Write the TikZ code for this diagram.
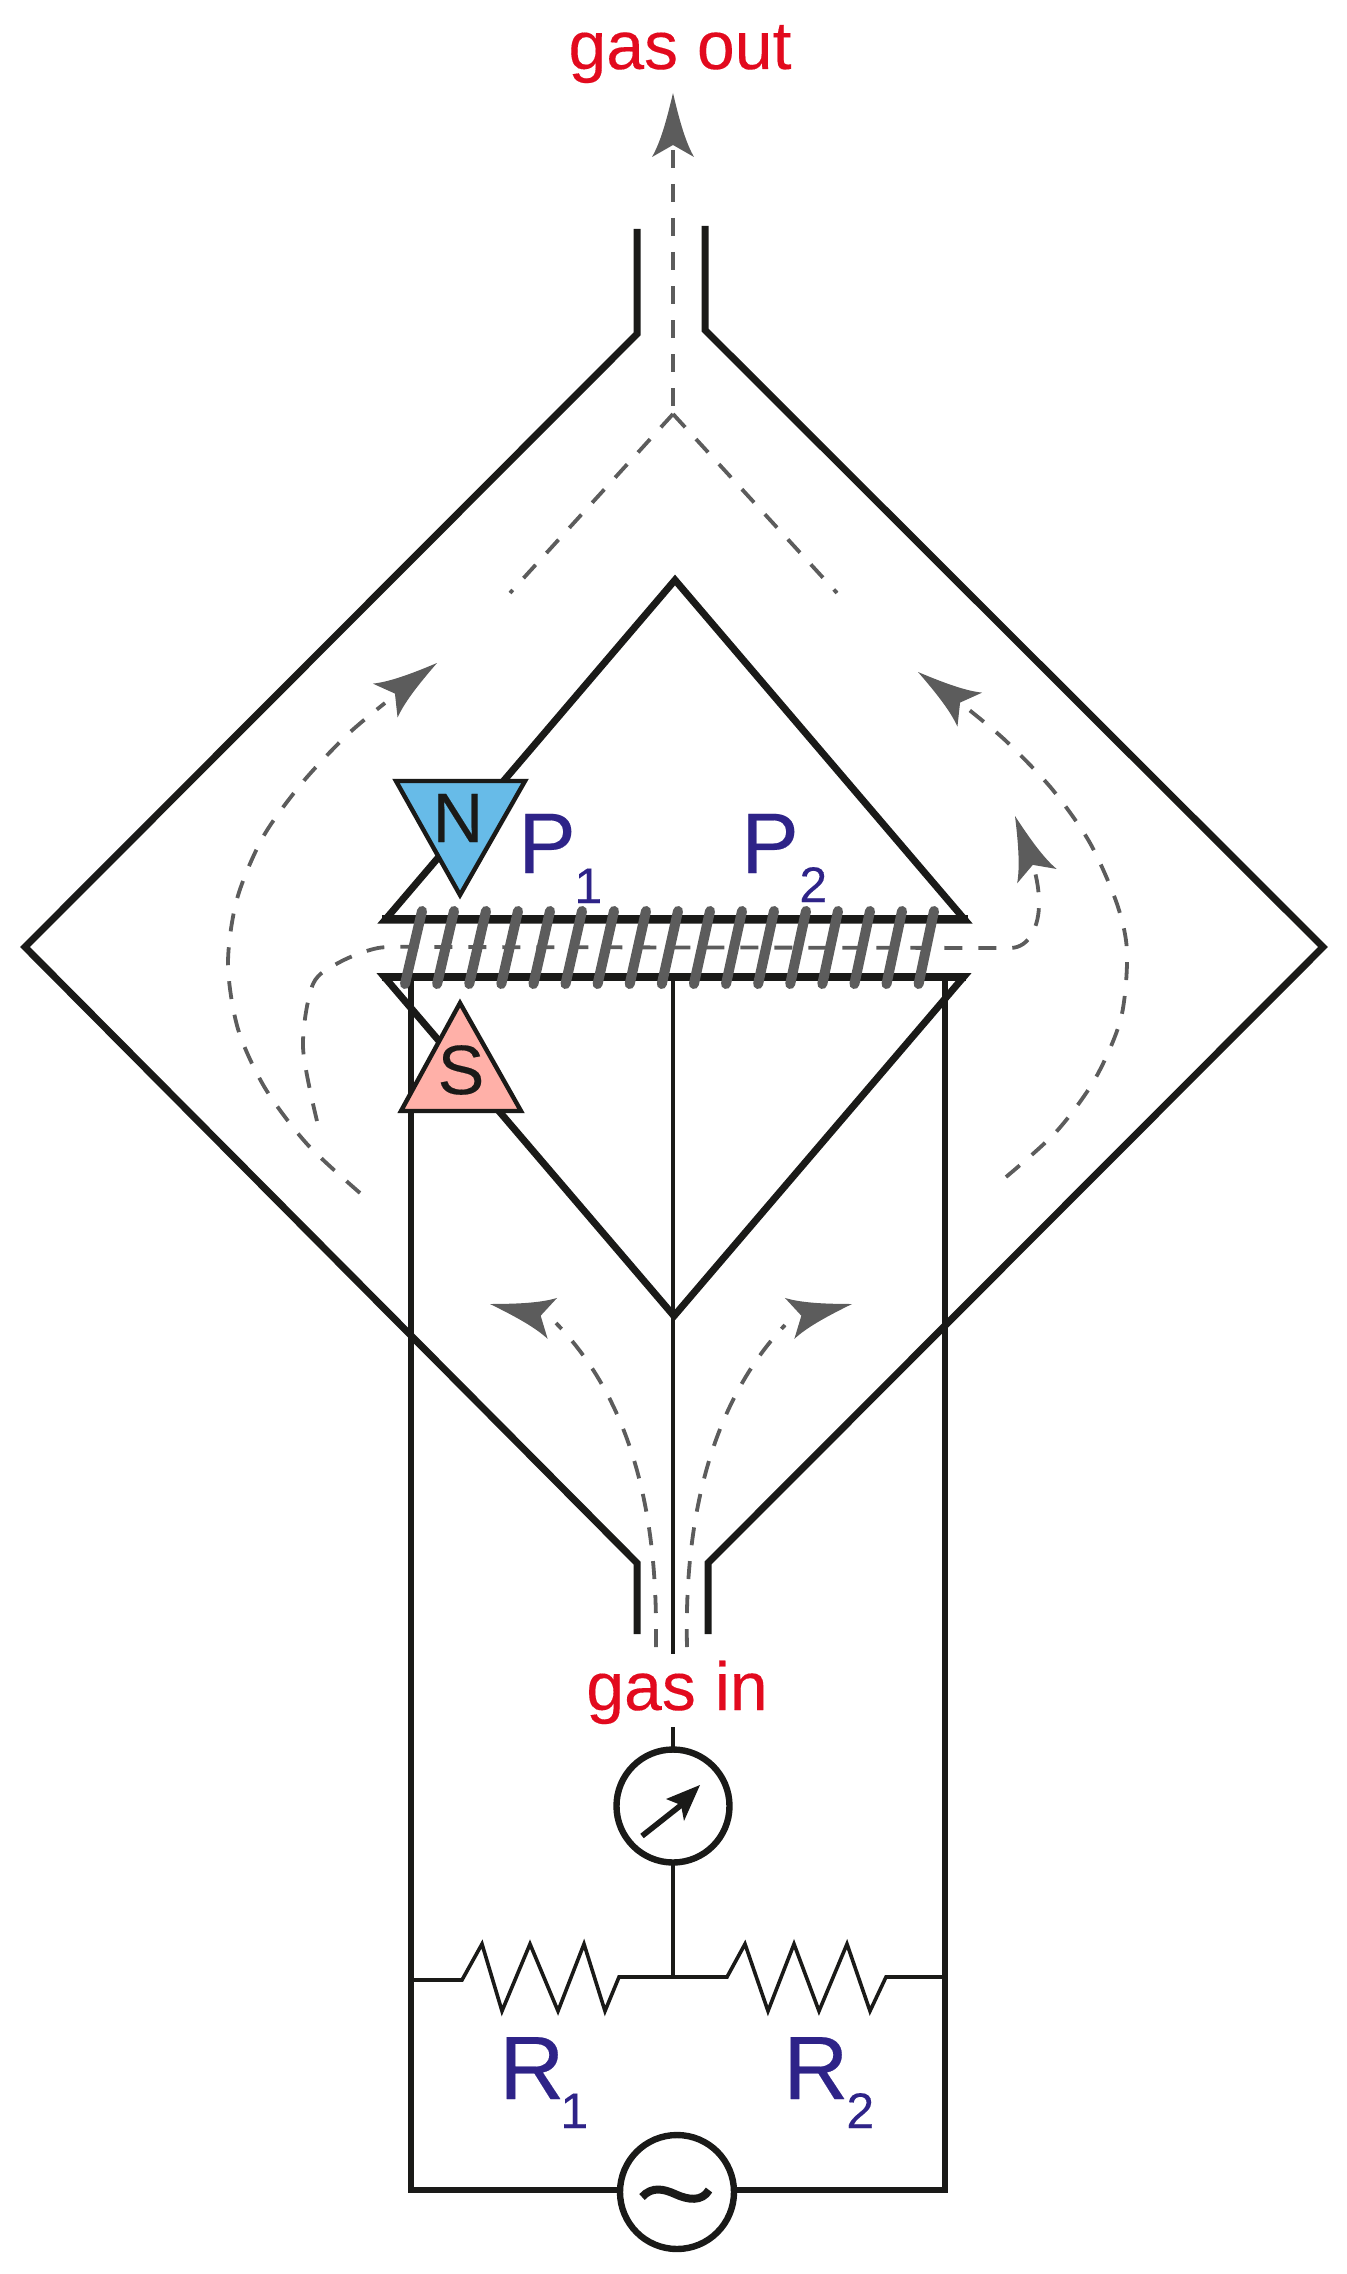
\documentclass[tikz,border=0pt]{standalone}
\usepackage{fontspec}
\setmainfont{Liberation Sans}[FakeBold=0.2]
\definecolor{ink}{HTML}{1A1A18}
\definecolor{flow}{HTML}{5C5C5C}
\definecolor{gasred}{HTML}{E20A1E}
\definecolor{labelblue}{HTML}{2E2388}
\definecolor{northblue}{HTML}{67BBE8}
\definecolor{southpink}{HTML}{FFB0A8}
\tikzset{
  x=0.5pt,y=-0.5pt,
  wall/.style={draw=ink,line width=3.5pt,line join=miter,miter limit=10},
  platebar/.style={draw=ink,line width=4.2pt},
  wire/.style={draw=ink,line width=3.2pt,line join=miter},
  thin wire/.style={draw=ink,line width=1.8pt,line join=miter},
  gasflow/.style={draw=flow,line width=1.9pt,dash pattern=on 9pt off 8pt},
  coilturn/.style={draw=flow,line width=5pt,line cap=round},
  head/.style={fill=flow,draw=none},
  gaslabel/.style={text=gasred,inner sep=0pt,anchor=base,font=\fontsize{34}{40}\selectfont},
  bluelabel/.style={text=labelblue,inner sep=0pt,anchor=base west},
  polelabel/.style={text=ink,inner sep=0pt,font=\fontsize{35}{40}\selectfont},
}
\newcommand{\gashead}[3]{% tip x, tip y, direction on the page (deg, counter-clockwise)
  \begin{scope}[shift={(#1,#2)},rotate=#3]
    \fill[head] (0,0) .. controls (-30,-7) and (-50,-13) .. (-64,-21) -- (-52,0) -- (-64,21) .. controls (-50,13) and (-30,7) .. (0,0) -- cycle;
  \end{scope}}
\begin{document}
\begin{tikzpicture}
\useasboundingbox (0,0) rectangle (1346,2274);
% outer body
\draw[wall] (637,229) -- (637,334) -- (25,947) -- (637,1563) -- (637,1634);
\draw[wall] (705,226) -- (705,330) -- (1323,947) -- (708,1563) -- (708,1634);
% plates
\draw[wall] (385,920) -- (675,580) -- (965,920) -- cycle;
\draw[wall] (384,976.5) -- (964,976.5) -- (674,1316) -- cycle;
\draw[platebar] (382,919) -- (968,919);
\draw[platebar] (382,977) -- (966,977);
% circuit
\draw[wire] (617,2190) -- (411,2190) -- (411,976.5) -- (945,976.5) -- (945,2190) -- (736,2190);
\draw[thin wire] (673,981) -- (673,1654);
\draw[thin wire] (673,1727) -- (673,1747);
\draw[thin wire] (673,1865) -- (673,1977);
\draw[thin wire] (411,1980) -- (462,1980) -- (482,1944) -- (502,2011) -- (530,1944) -- (558,2011) -- (584,1944) -- (605,2011) -- (619,1977) -- (727,1977) -- (745,1944) -- (768,2011) -- (794,1944) -- (819,2011) -- (847,1944) -- (870,2011) -- (886,1977) -- (945,1977);
% gas paths
\draw[gasflow] (673,150) -- (673,414);
\draw[gasflow] (673,414) -- (510,593);
\draw[gasflow] (673,414) -- (837,593);
\draw[gasflow] plot[smooth] coordinates {(360,1193) (307,1144) (265,1088) (238,1029) (228,964) (237,899) (263,837) (302,783) (347,735) (385,703)};
\draw[gasflow] plot[smooth] coordinates {(1006,1177) (1056,1132) (1095,1079) (1121,1018) (1127,952) (1117,904) (1090,843) (1052,789) (1006,741) (968,709)};
\draw[gasflow] plot[smooth] coordinates {(317,1121) (303,1047) (313,984) (340,962) (378,948) (420,947)} -- (1010,948) .. controls (1030,948) and (1039,925) .. (1039,904) .. controls (1039,890) and (1037,880) .. (1034,868);
\draw[gasflow] (656,1647) .. controls (657,1560) and (650,1420) .. (556,1323);
\draw[gasflow] (687,1647) .. controls (685,1560) and (695,1420) .. (785,1325);
\gashead{673}{93}{90}
\gashead{437}{663}{36}
\gashead{918}{672}{144}
\gashead{1015}{816}{110}
\gashead{490}{1304}{167}
\gashead{852}{1304}{13}
% magnets
\draw[draw=ink,line width=2.2pt,fill=northblue,line join=miter] (396,781) -- (525,781) -- (460,895) -- cycle;
\node[polelabel] (north) at (458,818) {N};
\draw[draw=ink,line width=2.2pt,fill=southpink,line join=miter] (460,1003) -- (401,1111) -- (521,1111) -- cycle;
\node[polelabel] (south) at (461,1070) {S};
% coil
\foreach \i in {0,...,16}{
  \draw[coilturn] ({422+32*\i},911) -- ({405+32.1*\i},984);
}
% meter and source
\draw[wire] (673,1806) circle (56.5);
\draw[draw=ink,line width=2.8pt] (642,1836) -- (685,1802);
\fill[ink] (700,1785) -- (666,1799) -- (681,1805) -- (684,1821) -- cycle;
\draw[wire] (677,2192) circle (57);
\draw[draw=ink,line width=4pt] (642,2197) .. controls (652,2186) and (664,2189) .. (675,2194) .. controls (688,2200) and (702,2202) .. (709,2190);
% labels
\node[gaslabel] (gasout) at (680,69) {gas out};
\node[gaslabel] (gasin) at (677,1710) {gas in};
\node[bluelabel,font=\fontsize{43}{50}\selectfont] (pone) at (518,873) {P};
\node[bluelabel,font=\fontsize{25}{30}\selectfont] (ponesub) at (574,903) {1};
\node[bluelabel,font=\fontsize{43}{50}\selectfont] (ptwo) at (741,873) {P};
\node[bluelabel,font=\fontsize{25}{30}\selectfont] (ptwosub) at (799,902) {2};
\node[bluelabel,font=\fontsize{45}{50}\selectfont] (rone) at (499,2099) {R};
\node[bluelabel,font=\fontsize{25}{30}\selectfont] (ronesub) at (560,2128) {1};
\node[bluelabel,font=\fontsize{45}{50}\selectfont] (rtwo) at (783,2099) {R};
\node[bluelabel,font=\fontsize{25}{30}\selectfont] (rtwosub) at (846,2128) {2};
\end{tikzpicture}
\end{document}
